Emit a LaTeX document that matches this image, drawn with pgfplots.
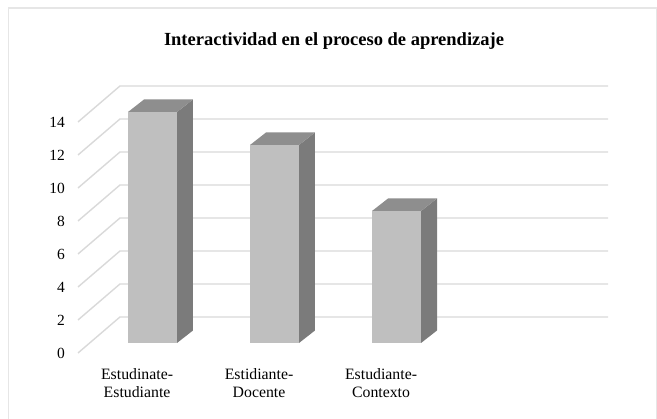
\documentclass[border=0pt]{standalone}
\usepackage{fontspec}
\setmainfont{Liberation Serif}
\usepackage{pgfplots}
\pgfplotsset{compat=1.18}
\definecolor{frontc}{HTML}{BFBFBF}
\definecolor{topc}{HTML}{8E8E8E}
\definecolor{sidec}{HTML}{7B7B7B}
\definecolor{gridc}{HTML}{D9D9D9}
\definecolor{borderc}{HTML}{E6E6E6}
\begin{document}
\begin{tikzpicture}[x=1pt,y=1pt]
\path[use as bounding box] (0,0) rectangle (657,419);
\draw[borderc, line width=1.2pt] (8.5,0) -- (8.5,411) -- (656.4,411) -- (656.4,0);
\node[font=\fontsize{18.5}{20}\selectfont\bfseries, anchor=base] at (334,373) {Interactividad en el proceso de aprendizaje};
\begin{axis}[
  at={(139pt,76pt)}, anchor=origin,
  scale only axis, width=530pt, height=267pt,
  xmin=-0.5, xmax=3.844, ymin=-0.606, ymax=15.576,
  clip=false,
  axis line style={draw=none},
  major tick length=0pt,
  ytick={-0.606,1.394,3.394,5.394,7.394,9.394,11.394,13.394},
  yticklabels={0,2,4,6,8,10,12,14},
  xtick={-0.016,0.984,1.984},
  xticklabels={{Estudinate-\\Estudiante},{Estidiante-\\Docente},{Estudiante-\\Contexto}},
  /pgf/number format/assume math mode=true,
  yticklabel style={font=\fontsize{15.5}{17}\selectfont, anchor=east, inner sep=0pt, xshift=-13pt},
  xticklabel style={font=\fontsize{15.8}{17.5}\selectfont, align=center, anchor=north, inner sep=0pt, yshift=-15.5pt},
]
% grid: slanted floor-to-wall lines and back wall lines
\addplot[gridc, line width=1.4pt] coordinates {(-0.5,-0.606) (-0.156,1.576) (3.844,1.576)};
\addplot[gridc, line width=1.4pt] coordinates {(-0.5,1.394) (-0.156,3.576) (3.844,3.576)};
\addplot[gridc, line width=1.4pt] coordinates {(-0.5,3.394) (-0.156,5.576) (3.844,5.576)};
\addplot[gridc, line width=1.4pt] coordinates {(-0.5,5.394) (-0.156,7.576) (3.844,7.576)};
\addplot[gridc, line width=1.4pt] coordinates {(-0.5,7.394) (-0.156,9.576) (3.844,9.576)};
\addplot[gridc, line width=1.4pt] coordinates {(-0.5,9.394) (-0.156,11.576) (3.844,11.576)};
\addplot[gridc, line width=1.4pt] coordinates {(-0.5,11.394) (-0.156,13.576) (3.844,13.576)};
\addplot[gridc, line width=1.4pt] coordinates {(-0.5,13.394) (-0.156,15.576) (3.844,15.576)};
% front faces
\addplot[ybar, bar width=49pt, bar shift=13.5pt, fill=frontc, draw=none] coordinates {(0,14) (1,12) (2,8)};
% bar 1 (14)
\addplot[fill=sidec, draw=none] coordinates {(0.3115,0) (0.4425,0.758) (0.4425,14.758) (0.3115,14)} --cycle;
\addplot[fill=topc, draw=none] coordinates {(-0.09,14) (0.3115,14) (0.4425,14.758) (0.041,14.758)} --cycle;
% bar 2 (12)
\addplot[fill=sidec, draw=none] coordinates {(1.3115,0) (1.4425,0.758) (1.4425,12.758) (1.3115,12)} --cycle;
\addplot[fill=topc, draw=none] coordinates {(0.91,12) (1.3115,12) (1.4425,12.758) (1.041,12.758)} --cycle;
% bar 3 (8)
\addplot[fill=sidec, draw=none] coordinates {(2.3115,0) (2.4425,0.758) (2.4425,8.758) (2.3115,8)} --cycle;
\addplot[fill=topc, draw=none] coordinates {(1.91,8) (2.3115,8) (2.4425,8.758) (2.041,8.758)} --cycle;
\end{axis}
\end{tikzpicture}
\end{document}
